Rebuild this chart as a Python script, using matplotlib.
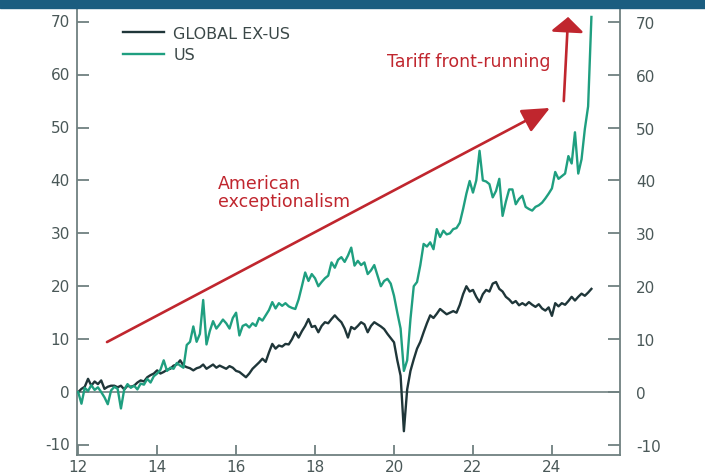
import numpy as np
import matplotlib
matplotlib.use("Agg")
import matplotlib.pyplot as plt
from matplotlib.patches import Rectangle

plt.rcParams['font.family'] = ['DejaVu Sans']
plt.rcParams['axes.unicode_minus'] = False

# monthly index values, Jan 2012 .. Jan 2025
us = [
    0.0, -2.2, 0.8, 0.2, 1.3, 0.4, 0.9, 0.0, -1.0, -2.3, 0.3, 1.0,          # 2012
    0.6, -3.1, 0.5, 1.5, 0.8, 1.2, 0.5, 1.6, 1.4, 2.5, 1.8, 3.0,            # 2013
    3.5, 4.2, 6.0, 4.0, 4.6, 4.4, 5.5, 5.0, 4.6, 8.9, 9.5, 12.4,            # 2014
    9.5, 11.0, 17.4, 9.0, 11.5, 13.4, 12.0, 12.8, 13.7, 13.0, 12.0, 14.0,   # 2015
    15.0, 10.7, 12.5, 12.8, 12.2, 13.0, 12.5, 14.0, 13.5, 14.5, 15.5, 17.0, # 2016
    15.8, 16.8, 16.3, 16.8, 16.2, 15.9, 15.7, 17.5, 20.0, 22.6, 21.0, 22.3, # 2017
    21.5, 20.0, 20.8, 21.5, 22.0, 24.5, 23.5, 25.0, 25.5, 24.6, 25.8, 27.3, # 2018
    23.9, 24.8, 24.0, 24.5, 22.3, 23.0, 24.0, 22.0, 20.0, 21.0, 21.4, 20.5, # 2019
    18.2, 15.0, 12.0, 4.0, 6.0, 13.8, 20.0, 20.8, 24.0, 28.0, 27.5, 28.3,   # 2020
    27.0, 30.8, 29.3, 30.5, 29.8, 30.0, 30.8, 31.0, 32.0, 34.6, 37.5, 39.9, # 2021
    37.7, 40.0, 45.6, 40.0, 39.8, 39.3, 36.8, 38.0, 40.3, 33.3, 36.0, 38.3, # 2022
    38.3, 35.5, 36.5, 37.1, 35.0, 34.6, 34.3, 35.0, 35.3, 35.8, 36.6, 37.5, # 2023
    38.5, 41.6, 40.3, 40.8, 41.3, 44.6, 43.2, 49.1, 41.3, 44.0, 49.7, 54.0, # 2024
    70.9,                                                                    # 2025
]
global_ex_us = [
    0.0, 0.6, 1.0, 2.5, 1.2, 2.0, 1.5, 2.2, 0.6, 1.0, 1.2, 1.2,             # 2012
    0.9, 1.2, 0.5, 1.2, 1.0, 1.2, 1.8, 2.2, 2.0, 2.8, 3.2, 3.5,             # 2013
    4.1, 3.5, 3.8, 4.2, 4.4, 5.0, 5.2, 6.0, 5.0, 4.7, 4.5, 4.1,             # 2014
    4.5, 4.7, 5.2, 4.4, 4.8, 5.2, 4.6, 5.0, 4.7, 4.4, 4.9, 4.6,             # 2015
    4.0, 3.8, 3.3, 2.8, 3.5, 4.4, 5.0, 5.6, 6.3, 5.7, 7.5, 9.1,             # 2016
    8.2, 8.8, 8.6, 9.1, 9.0, 10.0, 11.3, 10.3, 11.5, 12.5, 13.8, 12.3,      # 2017
    12.5, 11.3, 12.5, 13.2, 13.0, 13.8, 14.5, 13.8, 13.2, 12.0, 10.3, 12.3, # 2018
    11.9, 12.5, 13.2, 12.8, 11.3, 12.5, 13.2, 12.8, 12.4, 11.9, 11.0, 10.2, # 2019
    9.4, 6.0, 3.1, -7.4, 0.5, 4.0, 6.2, 8.2, 9.5, 11.3, 13.0, 14.5,        # 2020
    14.0, 14.8, 15.7, 15.2, 14.7, 15.0, 15.3, 15.0, 16.5, 18.5, 20.0, 19.0, # 2021
    19.3, 18.0, 17.0, 18.5, 19.3, 19.0, 20.5, 20.8, 19.5, 19.0, 18.0, 17.5, # 2022
    16.8, 17.2, 16.4, 16.8, 16.4, 17.0, 16.5, 16.1, 16.6, 15.8, 15.4, 16.0, # 2023
    14.4, 16.8, 16.2, 16.8, 16.5, 17.2, 18.0, 17.3, 18.0, 18.6, 18.2, 18.8, # 2024
    19.5,                                                                    # 2025
]
years = 2012 + np.arange(len(us)) / 12

year_ticks = [2012, 2014, 2016, 2018, 2020, 2022, 2024]
year_labels = ['12', '14', '16', '18', '20', '22', '24']
value_ticks = [-10, 0, 10, 20, 30, 40, 50, 60, 70]

DARK = '#1f3639'
TEAL = '#1f9f80'
RED = '#c0262e'
GREY = '#6f8080'
TXT = '#4a5858'

fig = plt.figure(figsize=(7.05, 4.77), dpi=100)
ax = fig.add_axes([0.1092, 0.044, 0.770, 0.935])

# header strip along the top edge
fig.patches.append(Rectangle((0, 0.981), 1, 0.019, transform=fig.transFigure,
                             color='#1b5d80', zorder=0))

ax.axhline(0, color=GREY, lw=1.2, zorder=1)
ax.plot(years, global_ex_us, color=DARK, lw=1.7, label='GLOBAL EX-US', zorder=3)
ax.plot(years, us, color=TEAL, lw=1.7, label='US', zorder=3)

ax.set_xlim(2011.97, 2025.72)
ax.set_ylim(-11.9, 72.4)

ax.set_xticks(year_ticks)
ax.set_xticklabels(year_labels)
ax.set_yticks(value_ticks)
ax.tick_params(axis='y', direction='in', length=8.5, width=1.3, color=GREY,
               labelcolor=TXT, labelsize=11, pad=11.5,
               left=True, right=True, labelleft=False, labelright=True)
ax.tick_params(axis='x', direction='in', length=7, width=1.3, color=GREY,
               labelcolor=TXT, labelsize=11, pad=3)

# left-hand labels sit closer to the spine than the right-hand ones
for v in value_ticks:
    ax.text(-0.013, v, str(v), transform=ax.get_yaxis_transform(),
            ha='right', va='center', fontsize=11, color=TXT)

for side in ['left', 'right', 'bottom']:
    ax.spines[side].set_color(GREY)
    ax.spines[side].set_linewidth(1.3)
ax.spines['top'].set_visible(False)

leg = ax.legend(loc='upper left', bbox_to_anchor=(0.0847, 0.962), frameon=False,
                fontsize=11.5, handlelength=2.6, handletextpad=0.55,
                borderpad=0, borderaxespad=0, labelspacing=0.4)
for t in leg.get_texts():
    t.set_color('#3b4848')

# annotations
ax.annotate('', xy=(2023.95, 53.7), xytext=(2012.73, 9.45),
            arrowprops=dict(arrowstyle='-|>,head_length=0.85,head_width=0.38',
                            mutation_scale=20, color=RED, lw=1.9,
                            shrinkA=0, shrinkB=0), zorder=4)
ax.text(2015.54, 37.8, 'American\nexceptionalism', color=RED, fontsize=12.5,
        ha='left', va='center', multialignment='left', linespacing=0.95)

ax.annotate('', xy=(2024.41, 70.9), xytext=(2024.30, 55.0),
            arrowprops=dict(arrowstyle='-|>,head_length=0.45,head_width=0.5',
                            mutation_scale=20, color=RED, lw=1.9,
                            shrinkA=0, shrinkB=0), zorder=4)
ax.text(2019.82, 62.6, 'Tariff front-running', color=RED, fontsize=12.5,
        ha='left', va='center')

fig.savefig('out.png', dpi=100)
